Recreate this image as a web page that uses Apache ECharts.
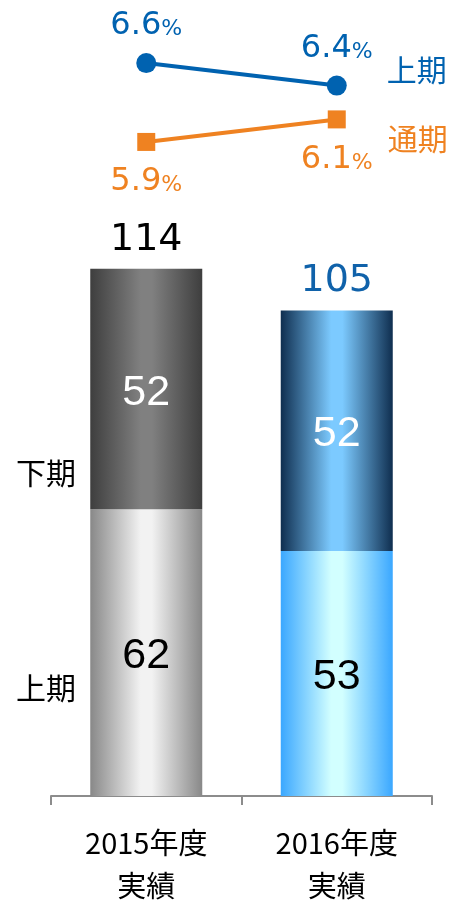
<!DOCTYPE html>
<html>
<head>
<meta charset="utf-8">
<script src="https://cdn.jsdelivr.net/npm/echarts@6/dist/echarts.min.js"></script>
<style>html,body{margin:0;padding:0;background:#fff;}#c{width:453px;height:907px;}</style>
</head>
<body>
<div id="c"></div>
<script>
const categories = ['2015年度\n実績', '2016年度\n実績'];
const firstHalf = [62, 53];      // 上期 (bottom)
const secondHalf = [52, 52];     // 下期 (top)
const totals = [114, 105];
const rateFirstHalf = [6.6, 6.4]; // 上期 %
const rateFullYear = [5.9, 6.1];  // 通期 %

const BLUE = '#0062b0';
const ORANGE = '#ef8221';

function hg(edge, center) {
  return new echarts.graphic.LinearGradient(0, 0, 1, 0, [
    {offset: 0, color: edge},
    {offset: 0.45, color: center},
    {offset: 0.55, color: center},
    {offset: 1, color: edge}
  ]);
}
const lowerColors = [hg('#888888', '#f2f2f2'), hg('#3aa7ff', '#d2ffff')];
const upperColors = [hg('#3e3e3e', '#808080'), hg('#0f2e4f', '#7ccaff')];
const totalColors = ['#000000', '#1062aa'];

const chart = echarts.init(document.getElementById('c'));
chart.setOption({
  animation: false,
  backgroundColor: '#fff',
  grid: [
    {left: 51, right: 21, top: 241, bottom: 108},
    {left: 51, right: 21, top: 18, height: 169}
  ],
  xAxis: [
    {
      gridIndex: 0, type: 'category', data: categories,
      axisLine: {lineStyle: {color: '#8c8c8c', width: 2}},
      axisTick: {show: true, length: 9, lineStyle: {color: '#8c8c8c', width: 2}},
      axisLabel: {color: '#000', fontSize: 29, lineHeight: 43, margin: 25,
        fontFamily: 'Noto Sans CJK JP'}
    },
    {gridIndex: 1, type: 'category', data: categories, show: false}
  ],
  yAxis: [
    {gridIndex: 0, type: 'value', min: 0, max: 120, show: false},
    {gridIndex: 1, type: 'value', min: 5.5, max: 7.0, show: false}
  ],
  series: [
    {
      type: 'bar', stack: 'a', xAxisIndex: 0, yAxisIndex: 0, barWidth: 112,
      data: firstHalf.map((v, i) => ({value: v, itemStyle: {color: lowerColors[i]}})),
      label: {show: true, position: 'inside', color: '#000', fontSize: 43, offset: [0, 4],
        fontFamily: 'Liberation Sans, Arial'}
    },
    {
      type: 'bar', stack: 'a', xAxisIndex: 0, yAxisIndex: 0, barWidth: 112,
      data: secondHalf.map((v, i) => ({value: v, itemStyle: {color: upperColors[i]}})),
      label: {show: true, position: 'inside', color: '#fff', fontSize: 43, offset: [0, 4],
        fontFamily: 'Liberation Sans, Arial'}
    },
    {
      type: 'scatter', xAxisIndex: 0, yAxisIndex: 0, symbolSize: 0,
      itemStyle: {opacity: 1},
      data: totals.map((v, i) => ({value: v, label: {color: totalColors[i]}})),
      label: {show: true, position: 'top', distance: 10, fontSize: 38,
        fontFamily: 'DejaVu Sans'}
    },
    {
      type: 'line', xAxisIndex: 1, yAxisIndex: 1, data: rateFirstHalf,
      symbol: 'circle', symbolSize: 20,
      lineStyle: {color: BLUE, width: 4}, itemStyle: {color: BLUE},
      label: {show: true, position: 'top', distance: 11,
        formatter: p => '{n|' + p.value.toFixed(1) + '}{p|%}',
        rich: {n: {fontSize: 32, color: BLUE, fontFamily: 'DejaVu Sans'},
               p: {fontSize: 22, color: BLUE, fontFamily: 'DejaVu Sans', padding: [7, 0, 0, 0]}}},
      endLabel: {show: true, formatter: '上期', color: BLUE, fontSize: 30,
        fontFamily: 'Noto Sans CJK JP', distance: 50, offset: [0, -16]}
    },
    {
      type: 'line', xAxisIndex: 1, yAxisIndex: 1, data: rateFullYear,
      symbol: 'rect', symbolSize: 18,
      lineStyle: {color: ORANGE, width: 4}, itemStyle: {color: ORANGE},
      label: {show: true, position: 'bottom', distance: 15,
        formatter: p => '{n|' + p.value.toFixed(1) + '}{p|%}',
        rich: {n: {fontSize: 32, color: ORANGE, fontFamily: 'DejaVu Sans'},
               p: {fontSize: 22, color: ORANGE, fontFamily: 'DejaVu Sans', padding: [7, 0, 0, 0]}}},
      endLabel: {show: true, formatter: '通期', color: ORANGE, fontSize: 30,
        fontFamily: 'Noto Sans CJK JP', distance: 51, offset: [0, 19]}
    }
  ],
  graphic: [
    {type: 'text', left: 16, top: 458, style: {text: '下期', fontSize: 30, fill: '#000', fontFamily: 'Noto Sans CJK JP'}},
    {type: 'text', left: 16, top: 673, style: {text: '上期', fontSize: 30, fill: '#000', fontFamily: 'Noto Sans CJK JP'}}
  ]
});
</script>
</body>
</html>
